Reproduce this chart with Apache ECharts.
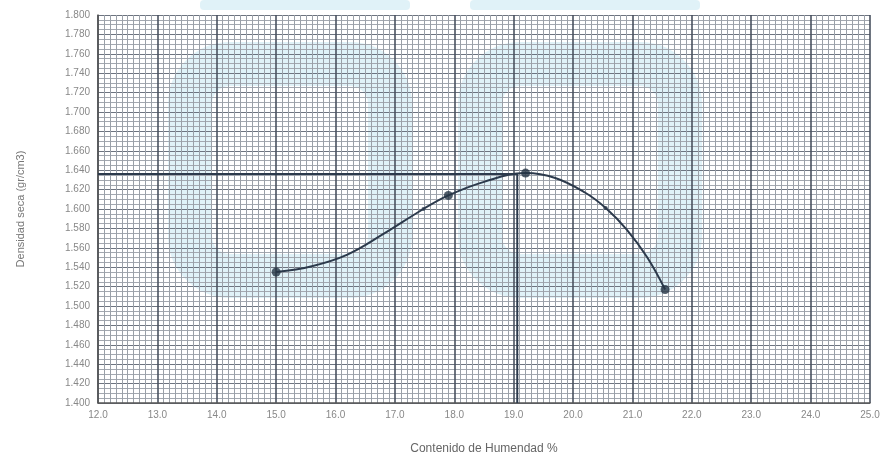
<!DOCTYPE html>
<html>
<head>
<meta charset="utf-8">
<script src="https://cdn.jsdelivr.net/npm/echarts@6/dist/echarts.min.js"></script>
<style>
  html, body { margin: 0; padding: 0; background: #fff; }
  #chart { width: 888px; height: 464px; }
</style>
</head>
<body>
<div id="chart"></div>
<script>
// ensayos (puntos medidos)
const humedad = [15.0, 17.9, 19.2, 21.55]
const densidad = [1.535, 1.614, 1.637, 1.517]
// puntos pequeños sobre la curva
const humedadAux = [17.48, 20.55]
const densidadAux = [1.600, 1.601]
// curva
const curvaX = [15.0, 15.6, 16.2, 16.8, 17.48, 17.9, 18.5, 19.2, 19.7, 20.2, 20.55, 20.9, 21.25, 21.55]
const curvaY = [1.535, 1.541, 1.553, 1.574, 1.600, 1.614, 1.628, 1.637, 1.632, 1.617, 1.601, 1.579, 1.550, 1.517]
// humedad óptima y densidad máxima
const optimo = { x: 19.06, y: 1.636 }

const xMin = 12, xMax = 25
const yMin = 1.4, yMax = 1.8

const toPairs = (xs, ys) => xs.map((x, i) => [x, ys[i]])

const myChart = echarts.init(document.getElementById('chart'))

const wm = '#cbe9f4'

myChart.setOption({
  animation: false,
  backgroundColor: '#fff',
  textStyle: { fontFamily: 'Liberation Sans, Arial, sans-serif' },
  graphic: [
    // marca de agua
    { type: 'rect', z: -10, shape: { x: 190, y: 64, width: 200, height: 212, r: 40 },
      style: { fill: 'none', stroke: wm, lineWidth: 44, opacity: 0.6 } },
    { type: 'rect', z: -10, shape: { x: 480, y: 64, width: 200, height: 212, r: 40 },
      style: { fill: 'none', stroke: wm, lineWidth: 44, opacity: 0.6 } },
    { type: 'rect', z: -10, shape: { x: 200, y: 0, width: 210, height: 10, r: 4 },
      style: { fill: wm, opacity: 0.6 } },
    { type: 'rect', z: -10, shape: { x: 470, y: 0, width: 230, height: 10, r: 4 },
      style: { fill: wm, opacity: 0.6 } }
  ],
  grid: { left: 98, right: 18, top: 15, bottom: 61 },
  xAxis: {
    type: 'value',
    min: xMin,
    max: xMax,
    interval: 1,
    name: 'Contenido de Humendad %',
    nameLocation: 'middle',
    nameGap: 40,
    nameTextStyle: { color: '#666', fontSize: 12 },
    axisLine: { show: true, lineStyle: { color: '#555', width: 1.5 } },
    axisTick: { show: false },
    minorTick: { show: true, splitNumber: 10, length: 0 },
    axisLabel: { color: '#888', fontSize: 10, margin: 7, formatter: v => v.toFixed(1) },
    splitLine: { show: true, lineStyle: { color: '#4a5260', width: 1.6 } },
    minorSplitLine: { show: true, lineStyle: { color: '#9aa0a8', width: 1 } }
  },
  yAxis: {
    type: 'value',
    min: yMin,
    max: yMax,
    interval: 0.02,
    name: 'Densidad seca (gr/cm3)',
    nameLocation: 'middle',
    nameGap: 72,
    nameTextStyle: { color: '#777', fontSize: 11 },
    axisLine: { show: true, lineStyle: { color: '#555', width: 1.5 } },
    axisTick: { show: false },
    minorTick: { show: true, splitNumber: 4, length: 0 },
    axisLabel: { color: '#888', fontSize: 10, margin: 8, formatter: v => v.toFixed(3) },
    splitLine: { show: true, lineStyle: { color: '#6d7480', width: 1.2 } },
    minorSplitLine: { show: true, lineStyle: { color: '#a3a8b0', width: 1 } }
  },
  series: [
    {
      type: 'line',
      data: [[xMin, optimo.y], [optimo.x, optimo.y], [optimo.x, yMin]],
      symbol: 'none',
      lineStyle: { color: '#2c3a4c', width: 2 },
      z: 3
    },
    {
      type: 'line',
      data: toPairs(curvaX, curvaY),
      smooth: 0.4,
      symbol: 'none',
      lineStyle: { color: '#2c3a4c', width: 2 },
      z: 4
    },
    {
      type: 'scatter',
      data: toPairs(humedadAux, densidadAux),
      symbolSize: 4,
      itemStyle: { color: '#2c3a4c' },
      z: 5
    },
    {
      type: 'scatter',
      data: toPairs(humedad, densidad),
      symbolSize: 9,
      itemStyle: { color: '#263445' },
      z: 6
    }
  ]
})
</script>
</body>
</html>
